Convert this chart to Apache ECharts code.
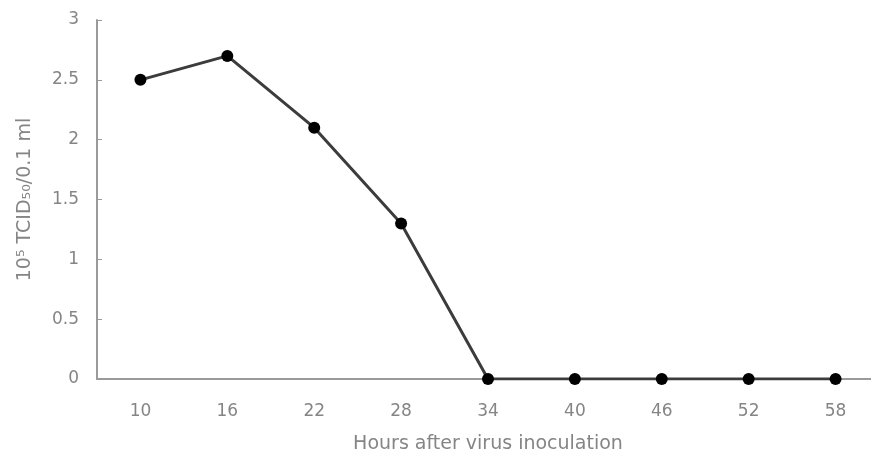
<!DOCTYPE html>
<html>
<head>
<meta charset="utf-8">
<script src="https://cdn.jsdelivr.net/npm/echarts@6/dist/echarts.min.js"></script>
<style>
  html, body { margin: 0; padding: 0; background: #fff; }
  #chart { width: 871px; height: 459px; }
</style>
</head>
<body>
<div id="chart"></div>
<script>
// Hours after inoculation and measured virus titer
const hours = ['10', '16', '22', '28', '34', '40', '46', '52', '58'];
const titer = [2.5, 2.7, 2.1, 1.3, 0, 0, 0, 0, 0];
const yTicks = [0, 0.5, 1, 1.5, 2, 2.5, 3];

const chart = echarts.init(document.getElementById('chart'));
const axisGray = '#9a9a9a';
const textGray = '#858585';
const font = 'DejaVu Sans';

chart.setOption({
  animation: false,
  grid: { left: 97, right: -8, top: 20, bottom: 80, outerBoundsMode: 'none', containLabel: false },
  xAxis: {
    type: 'category',
    data: hours,
    boundaryGap: true,
    name: 'Hours after virus inoculation',
    nameLocation: 'middle',
    nameGap: 56,
    nameTextStyle: { color: textGray, fontSize: 19, fontFamily: font },
    axisLine: { lineStyle: { color: axisGray, width: 2 } },
    axisTick: { inside: true, length: 5, lineStyle: { color: axisGray } },
    axisLabel: { color: textGray, fontSize: 17, margin: 24, fontFamily: font },
    splitLine: { show: false }
  },
  yAxis: {
    type: 'value',
    min: yTicks[0],
    max: yTicks[yTicks.length - 1],
    interval: 0.5,
    name: '10\u2075 TCID\u2085\u2080/0.1 ml',
    nameLocation: 'middle',
    nameGap: 62,
    nameTextStyle: { color: textGray, fontSize: 19, fontFamily: font },
    axisLine: { show: true, lineStyle: { color: axisGray, width: 2 } },
    axisTick: { show: true, inside: true, length: 5, lineStyle: { color: axisGray } },
    axisLabel: { color: textGray, fontSize: 17, margin: 18, fontFamily: font },
    splitLine: { show: false }
  },
  series: [{
    type: 'line',
    data: titer,
    symbol: 'circle',
    symbolSize: 12,
    lineStyle: { color: '#3c3c3c', width: 3 },
    itemStyle: { color: '#000' }
  }]
});
</script>
</body>
</html>
